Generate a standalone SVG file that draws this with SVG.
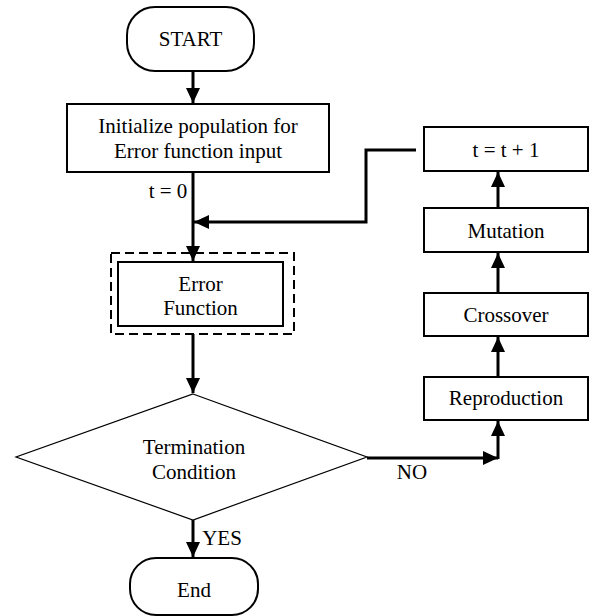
<svg xmlns="http://www.w3.org/2000/svg" width="595" height="616" viewBox="0 0 595 616">
<style>
text{font-family:"Liberation Serif","Times New Roman",serif;font-size:21px;fill:#000;text-anchor:middle}
.box{fill:#fff;stroke:#000;stroke-width:2}
.thin{fill:#fff;stroke:#000;stroke-width:1.2}
.dash{fill:none;stroke:#000;stroke-width:2;stroke-dasharray:9 5}
.c{fill:none;stroke:#000;stroke-width:3}
</style>
<defs>
<marker id="ah" markerUnits="userSpaceOnUse" markerWidth="16" markerHeight="16" viewBox="0 0 16 16" refX="15" refY="8" orient="auto">
<path d="M0,1 L15,8 L0,15 Z" fill="#000"/>
</marker>
</defs>
<rect width="595" height="616" fill="#fff"/>
<g id="start"><rect class="box" x="127" y="7" width="127" height="64" rx="28" ry="28"/><text x="190.5" y="46">START</text></g>
<g id="init"><rect class="box" x="67" y="104" width="262" height="68"/><text x="198" y="133">Initialize population for</text><text x="198" y="158">Error function input</text></g>
<g id="error"><rect class="dash" x="111" y="253" width="183" height="81"/><rect class="box" x="118" y="262" width="165" height="64"/><text x="200.5" y="291">Error</text><text x="200.5" y="315">Function</text></g>
<g id="term"><polygon class="thin" points="193,394 367,457 193,520 16,457"/><text x="194" y="454">Termination</text><text x="194" y="479">Condition</text></g>
<g id="end"><rect class="box" x="130" y="558" width="128" height="57" rx="26" ry="26"/><text x="194" y="597">End</text></g>
<g id="repro"><rect class="box" x="424" y="377" width="164" height="43"/><text x="506" y="405">Reproduction</text></g>
<g id="cross"><rect class="box" x="424" y="293" width="164" height="43"/><text x="506" y="322">Crossover</text></g>
<g id="mut"><rect class="box" x="424" y="208" width="164" height="44"/><text x="506" y="238">Mutation</text></g>
<g id="inc"><rect class="box" x="424" y="127" width="164" height="44"/><text x="506" y="157">t = t + 1</text></g>
<g id="connectors">
<line class="c" x1="193" y1="71" x2="193" y2="103" marker-end="url(#ah)"/>
<line class="c" x1="193" y1="172" x2="193" y2="261" marker-end="url(#ah)"/>
<polyline class="c" points="416,150 366,150 366,222 194,222" marker-end="url(#ah)"/>
<line class="c" x1="193" y1="334" x2="193" y2="393" marker-end="url(#ah)"/>
<line class="c" x1="193" y1="520" x2="193" y2="557" marker-end="url(#ah)"/>
<line class="c" x1="367" y1="458" x2="498" y2="458" marker-end="url(#ah)"/>
<line class="c" x1="498" y1="459" x2="498" y2="421" marker-end="url(#ah)"/>
<line class="c" x1="498" y1="377" x2="498" y2="337" marker-end="url(#ah)"/>
<line class="c" x1="498" y1="293" x2="498" y2="253" marker-end="url(#ah)"/>
<line class="c" x1="498" y1="208" x2="498" y2="172" marker-end="url(#ah)"/>
<text x="168" y="198">t = 0</text>
<text x="412" y="479">NO</text>
<text x="222" y="545">YES</text>
</g>
</svg>
